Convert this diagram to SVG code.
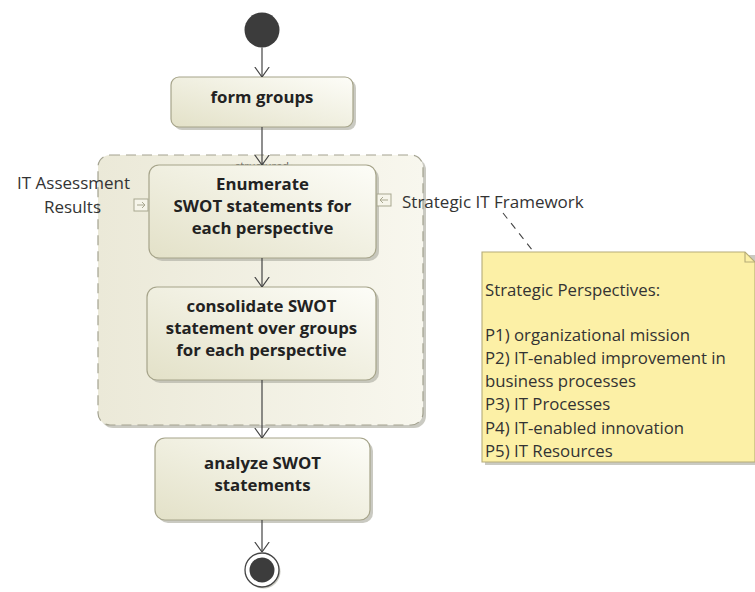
<svg xmlns="http://www.w3.org/2000/svg" width="755" height="592" viewBox="0 0 755 592">
  <defs>
    <linearGradient id="actFill" x1="0" y1="1" x2="1" y2="0">
      <stop offset="0" stop-color="#e3e1c8"/>
      <stop offset="1" stop-color="#fdfdf8"/>
    </linearGradient>
    <linearGradient id="regionFill" x1="0" y1="0" x2="1" y2="0">
      <stop offset="0" stop-color="#ebe9d8"/>
      <stop offset="1" stop-color="#f8f7ee"/>
    </linearGradient>
    <marker id="open" viewBox="0 0 10 16" markerWidth="10" markerHeight="16" refX="10" refY="8" orient="auto" markerUnits="userSpaceOnUse">
      <path d="M0,0.8 L10,8 L0,15.2" fill="none" stroke="#444" stroke-width="1.2"/>
    </marker>
  </defs>
  <style>
    .shadow { fill: #b4b3a8; opacity: 0.7; }
    .action { fill: url(#actFill); stroke: #a6a48a; stroke-width: 1.2; }
    .label { font-family: "Open Sans", "DejaVu Sans", sans-serif; font-weight: 700; font-size: 16.8px; fill: #222; text-anchor: middle; }
    .plain { font-family: "Open Sans", "DejaVu Sans", sans-serif; font-size: 17px; fill: #333; }
    .note { font-family: "Open Sans", "DejaVu Sans", sans-serif; font-size: 16.8px; fill: #333; }
    .flow { stroke: #444; stroke-width: 1.2; fill: none; marker-end: url(#open); }
    .pin { fill: #f6f5ea; stroke: #a8a78f; stroke-width: 1; }
    .pinArrow { stroke: #a8a78f; stroke-width: 1; fill: none; }
  </style>

  <rect width="755" height="592" fill="#ffffff"/>

  <!-- structured activity region -->
  <g id="structured-region">
    <rect x="101" y="158" width="325" height="270" rx="12" class="shadow"/>
    <rect x="98" y="155" width="325" height="270" rx="12" fill="url(#regionFill)" stroke="#a3a290" stroke-width="1.2" stroke-dasharray="10,6"/>
    <text x="262" y="170" font-family="Open Sans, DejaVu Sans, sans-serif" font-size="11" fill="#555" text-anchor="middle">«structured»</text>
  </g>

  <!-- initial node -->
  <g id="initial">
    <circle cx="262" cy="30" r="17.5" fill="#3c3c3c"/>
  </g>

  <!-- form groups -->
  <g id="form-groups">
    <rect x="174" y="80" width="182" height="50" rx="8" class="shadow"/>
    <rect x="171" y="77" width="182" height="50" rx="8" class="action"/>
    <text x="262" y="103" class="label">form groups</text>
  </g>

  <!-- enumerate -->
  <g id="enumerate">
    <rect x="152" y="168" width="227" height="93" rx="10" class="shadow"/>
    <rect x="149" y="165" width="227" height="93" rx="10" class="action"/>
    <text x="262.5" y="190" class="label">Enumerate</text>
    <text x="262.5" y="212" class="label">SWOT statements for</text>
    <text x="262.5" y="234" class="label">each perspective</text>
  </g>

  <!-- input pin: IT Assessment Results -->
  <g id="pin-assessment">
    <rect x="134" y="199" width="14" height="12" class="pin"/>
    <path d="M137,205 H145 M142,202 L145,205 L142,208" class="pinArrow"/>
    <text x="130" y="189" class="plain" text-anchor="end">IT Assessment</text>
    <text x="101" y="213" class="plain" text-anchor="end">Results</text>
  </g>

  <!-- input pin: Strategic IT Framework -->
  <g id="pin-framework">
    <rect x="377" y="194" width="14" height="12" class="pin"/>
    <path d="M388,200 H380 M383,197 L380,200 L383,203" class="pinArrow"/>
    <text x="402" y="208" class="plain">Strategic IT Framework</text>
  </g>

  <!-- consolidate -->
  <g id="consolidate">
    <rect x="150" y="290" width="229" height="93" rx="10" class="shadow"/>
    <rect x="147" y="287" width="229" height="93" rx="10" class="action"/>
    <text x="261.5" y="312" class="label">consolidate SWOT</text>
    <text x="261.5" y="334" class="label">statement over groups</text>
    <text x="261.5" y="356" class="label">for each perspective</text>
  </g>

  <!-- analyze -->
  <g id="analyze">
    <rect x="158" y="441" width="215" height="82" rx="10" class="shadow"/>
    <rect x="155" y="438" width="215" height="82" rx="10" class="action"/>
    <text x="262.5" y="469" class="label">analyze SWOT</text>
    <text x="262.5" y="491" class="label">statements</text>
  </g>

  <!-- final node -->
  <g id="final">
    <circle cx="263.5" cy="571.5" r="17" fill="#b4b3a8" opacity="0.7"/>
    <circle cx="262" cy="570" r="17" fill="#ffffff" stroke="#444" stroke-width="1.3"/>
    <circle cx="262" cy="570" r="12.5" fill="#3c3c3c"/>
  </g>

  <!-- note -->
  <g id="note-perspectives">
    <path d="M485,255 H758 V465 H485 Z" class="shadow"/>
    <path d="M482,252 H745 L755,262 V462 H482 Z" fill="#fcf0a6" stroke="#b5ac78" stroke-width="1.1"/>
    <path d="M745,252 V262 H755" fill="none" stroke="#b5ac78" stroke-width="1.1"/>
    <text x="485" y="296" class="note">Strategic Perspectives:</text>
    <text x="485" y="341" class="note">P1) organizational mission</text>
    <text x="485" y="364" class="note">P2) IT-enabled improvement in</text>
    <text x="485" y="387" class="note">business processes</text>
    <text x="485" y="410" class="note">P3) IT Processes</text>
    <text x="485" y="434" class="note">P4) IT-enabled innovation</text>
    <text x="485" y="457" class="note">P5) IT Resources</text>
  </g>

  <!-- connectors -->
  <g id="connectors">
    <line x1="262" y1="47.5" x2="262" y2="77" class="flow"/>
    <line x1="262" y1="127" x2="262" y2="165" class="flow"/>
    <line x1="262" y1="258" x2="262" y2="287" class="flow"/>
    <line x1="262" y1="380" x2="262" y2="438" class="flow"/>
    <line x1="262" y1="520" x2="262" y2="552" class="flow"/>
    <line x1="503" y1="213" x2="533" y2="251" stroke="#444" stroke-width="1.1" stroke-dasharray="7,6"/>
  </g>
</svg>
